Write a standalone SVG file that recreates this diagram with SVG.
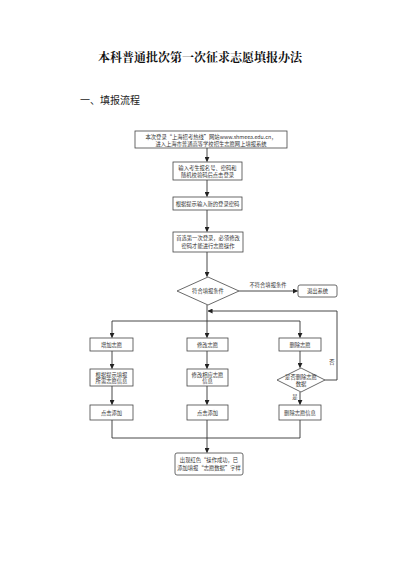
<svg xmlns="http://www.w3.org/2000/svg" width="400" height="565" viewBox="0 0 400 565">
<defs>
<style>
.bx{fill:#fff;stroke:#444;stroke-width:0.8}
.t{font-family:"Noto Sans CJK SC","Liberation Sans",sans-serif;font-size:5.3px;fill:#333;text-anchor:middle}
.ln{fill:none;stroke:#333;stroke-width:0.9}
</style>
<marker id="ar" viewBox="0 0 6 6" refX="5.5" refY="3" markerWidth="5" markerHeight="5" orient="auto" markerUnits="userSpaceOnUse">
<path d="M0,0 L6,3 L0,6 Z" fill="#222"/>
</marker>
</defs>
<rect width="400" height="565" fill="#fff"/>
<text x="200" y="62" font-family="'Noto Serif CJK SC','Noto Sans CJK SC',serif" font-weight="bold" font-size="12" text-anchor="middle" fill="#111">本科普通批次第一次征求志愿填报办法</text>
<text x="80" y="104" font-family="'Noto Sans CJK SC',sans-serif" font-size="10" fill="#222">一、填报流程</text>

<g id="connectors">
<path class="ln" d="M207,148 V161.5" marker-end="url(#ar)"/>
<path class="ln" d="M207,180 V196.5" marker-end="url(#ar)"/>
<path class="ln" d="M207,210 V231.5" marker-end="url(#ar)"/>
<path class="ln" d="M207,252 V276.5" marker-end="url(#ar)"/>
<path class="ln" d="M239,291 H297.5" marker-end="url(#ar)"/>
<text class="t" x="268" y="287">不符合填报条件</text>
<path class="ln" d="M207,305 V337.5" marker-end="url(#ar)"/>
<path class="ln" d="M112,321 H300"/>
<path class="ln" d="M112,321 V337.5" marker-end="url(#ar)"/>
<path class="ln" d="M300,321 V337.5" marker-end="url(#ar)"/>
<path class="ln" d="M325,380 H337 V311 H208" marker-end="url(#ar)"/>
<text class="t" x="332" y="364">否</text>
<path class="ln" d="M112,351 V368.5" marker-end="url(#ar)"/>
<path class="ln" d="M112,386 V404.5" marker-end="url(#ar)"/>
<path class="ln" d="M207,351 V368.5" marker-end="url(#ar)"/>
<path class="ln" d="M207,386 V404.5" marker-end="url(#ar)"/>
<path class="ln" d="M300,351 V367.5" marker-end="url(#ar)"/>
<path class="ln" d="M300,392 V404.5" marker-end="url(#ar)"/>
<text class="t" x="295" y="399">是</text>
<path class="ln" d="M112,420 V438 H300 V420"/>
<path class="ln" d="M207,420 V452.5" marker-end="url(#ar)"/>
</g>

<g id="n1"><rect class="bx" x="135" y="131" width="152" height="17"/>
<text class="t" x="211" y="138.5">本次登录“上海招考热线”网站www.shmeea.edu.cn，</text>
<text class="t" x="211" y="145.5">进入上海市普通高等学校招生志愿网上填报系统</text></g>
<g id="n2"><rect class="bx" x="173" y="162" width="69" height="18"/>
<text class="t" x="207.5" y="169.5">输入考生报名号、密码和</text>
<text class="t" x="207.5" y="176.5">随机校验码后点击登录</text></g>
<g id="n3"><rect class="bx" x="173" y="197" width="69" height="13"/>
<text class="t" x="207.5" y="205.5">根据提示输入新的登录密码</text></g>
<g id="n4"><rect class="bx" x="173" y="232" width="70" height="20"/>
<text class="t" x="208" y="240">首选第一次登录，必须修改</text>
<text class="t" x="208" y="247.5">密码才能进行志愿操作</text></g>
<g id="n5"><polygon class="bx" points="208,277 239,291 208,305 177,291"/>
<text class="t" x="208" y="293">符合填报条件</text></g>
<g id="n6"><rect class="bx" x="298" y="285" width="39" height="12" rx="2"/>
<text class="t" x="317.5" y="293">退出系统</text></g>

<g id="n7"><rect class="bx" x="90" y="338" width="43" height="13"/>
<text class="t" x="111.5" y="346.5">增加志愿</text></g>
<g id="n8"><rect class="bx" x="187" y="338" width="41" height="13"/>
<text class="t" x="207.5" y="346.5">修改志愿</text></g>
<g id="n9"><rect class="bx" x="279" y="338" width="42" height="13"/>
<text class="t" x="300" y="346.5">删除志愿</text></g>

<g id="n10"><rect class="bx" x="90" y="369" width="43" height="17"/>
<text class="t" x="111.5" y="376.5">根据提示填报</text>
<text class="t" x="111.5" y="383">所需志愿信息</text></g>
<g id="n11"><rect class="bx" x="187" y="369" width="41" height="17"/>
<text class="t" x="207.5" y="376.5">修改相应志愿</text>
<text class="t" x="207.5" y="383">信息</text></g>
<g id="n12"><polygon class="bx" points="301,368 325,380 301,392 277,380"/>
<text class="t" x="301" y="379">是否删除志愿</text>
<text class="t" x="301" y="385.5">数据</text></g>

<g id="n13"><rect class="bx" x="90" y="405" width="43" height="15"/>
<text class="t" x="111.5" y="414.5">点击添加</text></g>
<g id="n14"><rect class="bx" x="187" y="405" width="41" height="15"/>
<text class="t" x="207.5" y="414.5">点击添加</text></g>
<g id="n15"><rect class="bx" x="279" y="405" width="42" height="15"/>
<text class="t" x="300" y="414.5">删除志愿信息</text></g>

<g id="n16"><rect class="bx" x="175" y="453" width="68" height="22" rx="2"/>
<text class="t" x="209" y="462">出现红色“操作成功，已</text>
<text class="t" x="209" y="469.5">添加填报“志愿数据”字样</text></g>
</svg>
